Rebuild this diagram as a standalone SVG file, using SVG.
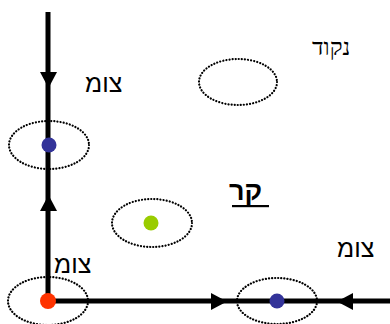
<svg xmlns="http://www.w3.org/2000/svg" width="390" height="324" viewBox="0 0 390 324">
<style>
.ell{fill:none;stroke:#000;stroke-width:2.2;stroke-dasharray:0.1 3;stroke-linecap:round}
.ln{stroke:#000;stroke-width:5;fill:none}
.t{font-family:"Liberation Sans",Arial,sans-serif;font-size:25px;fill:#000}
.s{font-family:"Liberation Serif","DejaVu Serif",serif;font-size:24px;fill:#000}
.b{font-weight:bold;font-size:27px}
</style>
<g id="connectors">
<path class="ln" d="M48,12 L48,301 L390,301"/>
<polygon points="40,72 57,72 48.5,88" fill="#000"/>
<polygon points="40,211 57,211 48.5,195" fill="#000"/>
<polygon points="211,293 211,310 227,301.5" fill="#000"/>
<polygon points="353,293 353,310 337,301.5" fill="#000"/>
</g>
<g id="node-point">
<ellipse class="ell" cx="238" cy="82" rx="39" ry="23"/>
<text class="s" x="312" y="55">&#x202E;נקוד&#x202C;</text>
</g>
<g id="node-junction-top">
<ellipse class="ell" cx="49" cy="145" rx="40" ry="24"/>
<circle cx="49" cy="145" r="7.5" fill="#333399"/>
<text class="t" x="85" y="92">&#x202E;צומ&#x202C;</text>
</g>
<g id="node-ray">
<ellipse class="ell" cx="152" cy="223" rx="40" ry="24"/>
<circle cx="151" cy="223" r="7.5" fill="#99cc00"/>
<text class="t b" x="229" y="200">&#x202E;קר&#x202C;</text>
<rect x="232" y="205" width="37" height="2.2" fill="#000"/>
</g>
<g id="node-junction-left">
<ellipse class="ell" cx="48" cy="301" rx="40" ry="24"/>
<circle cx="48" cy="301" r="8" fill="#ff3300"/>
<text class="t" x="54" y="273">&#x202E;צומ&#x202C;</text>
</g>
<g id="node-junction-right">
<ellipse class="ell" cx="277" cy="301" rx="40" ry="23"/>
<circle cx="277" cy="301" r="7.5" fill="#333399"/>
<text class="t" x="337" y="257">&#x202E;צומ&#x202C;</text>
</g>
</svg>
